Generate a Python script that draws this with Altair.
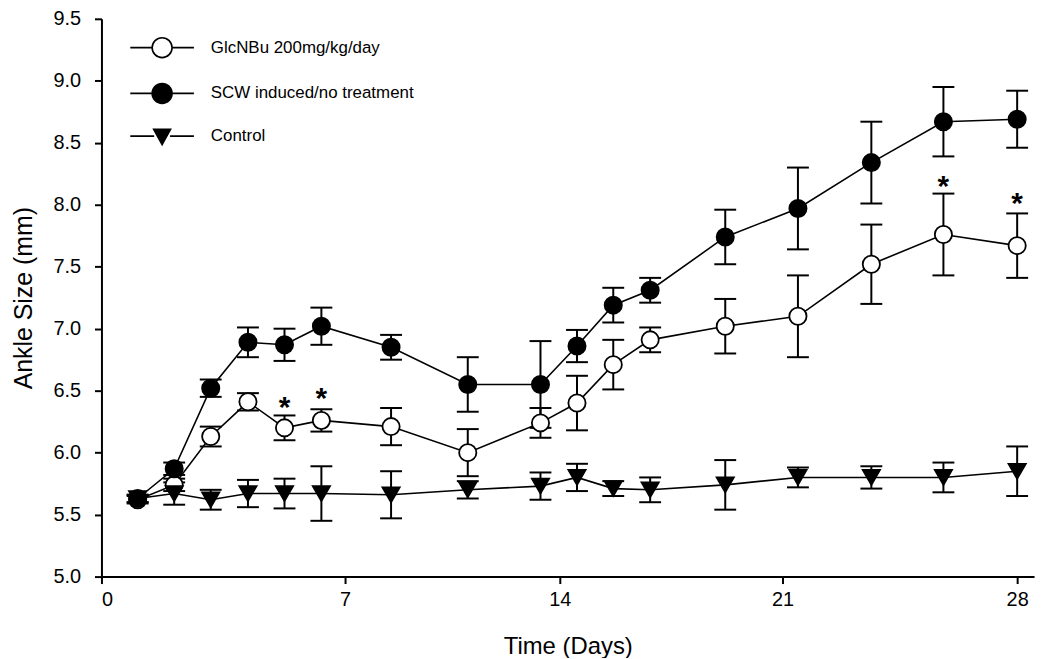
import altair as alt
import pandas as pd

# ---- data ----
days = [1.04, 2.09, 3.14, 4.21, 5.26, 6.32, 8.5, 11.0, 13.37, 14.54, 15.68, 16.84, 19.2, 21.46, 23.65, 25.8, 28.0]

series_names = ["GlcNBu 200mg/kg/day", "SCW induced/no treatment", "Control"]

glc = [5.62, 5.74, 6.13, 6.41, 6.20, 6.26, 6.21, 6.00, 6.24, 6.40, 6.71, 6.91, 7.02, 7.10, 7.52, 7.76, 7.67]
glc_err = [0.03, 0.05, 0.08, 0.07, 0.10, 0.09, 0.15, 0.19, 0.12, 0.22, 0.20, 0.10, 0.22, 0.33, 0.32, 0.33, 0.26]

scw = [5.63, 5.87, 6.52, 6.89, 6.87, 7.02, 6.85, 6.55, 6.55, 6.86, 7.19, 7.31, 7.74, 7.97, 8.34, 8.67, 8.69]
scw_err = [0.03, 0.05, 0.07, 0.12, 0.13, 0.15, 0.10, 0.22, 0.35, 0.13, 0.14, 0.10, 0.22, 0.33, 0.33, 0.28, 0.23]

ctrl = [5.63, 5.67, 5.62, 5.67, 5.67, 5.67, 5.66, 5.70, 5.73, 5.80, 5.71, 5.70, 5.74, 5.80, 5.80, 5.80, 5.85]
ctrl_err = [0.03, 0.09, 0.08, 0.11, 0.12, 0.22, 0.19, 0.07, 0.11, 0.11, 0.06, 0.10, 0.20, 0.08, 0.09, 0.12, 0.20]

star_days = [5.26, 6.32, 25.8, 28.0]
star_values = [6.41, 6.48, 8.19, 8.05]

x_ticks = [0, 7, 14, 21, 28]
y_ticks = [5.0, 5.5, 6.0, 6.5, 7.0, 7.5, 8.0, 8.5, 9.0, 9.5]

# ---- tables ----
rows = []
for name, vals, errs in zip(series_names, [glc, scw, ctrl], [glc_err, scw_err, ctrl_err]):
    for d, v, e in zip(days, vals, errs):
        rows.append({"series": name, "day": d, "value": v, "lo": v - e, "hi": v + e})
df = pd.DataFrame(rows)
stars = pd.DataFrame({"day": star_days, "value": star_values, "txt": ["*"] * len(star_days)})
# legend-only rows: no position, so no mark is drawn, only the legend entries
legend_df = pd.DataFrame({"entry": series_names, "day": [None] * 3, "value": [None] * 3})

FONT = "Liberation Sans"

# the scanned axis is slightly uneven; a piecewise scale keeps each tick where the original has it
xscale = alt.Scale(domain=[0, 7, 14, 21, 28, 28.5], range=[0, 245, 461, 685, 921, 938],
                   nice=False, zero=False)
yscale = alt.Scale(domain=[5.0, 9.5], nice=False, zero=False)

x_enc = alt.X("day:Q", scale=xscale,
              axis=alt.Axis(values=x_ticks, title="Time (Days)", format="d",
                            titlePadding=25, labelPadding=6, titleFontSize=24))
y_enc = alt.Y("value:Q", scale=yscale,
              axis=alt.Axis(values=y_ticks, format=".1f", title="Ankle Size (mm)",
                            titlePadding=17, labelPadding=14, titleFontSize=25))

base = alt.Chart(df)

lines = base.mark_line(color="black", strokeWidth=1.6).encode(
    x=x_enc, y=y_enc, detail="series:N")

bars = base.mark_rule(color="black", strokeWidth=2).encode(
    x="day:Q", y="lo:Q", y2="hi:Q")

cap_lo = base.mark_tick(orient="horizontal", color="black", size=22, thickness=2, opacity=1).encode(
    x="day:Q", y="lo:Q")
cap_hi = base.mark_tick(orient="horizontal", color="black", size=22, thickness=2, opacity=1).encode(
    x="day:Q", y="hi:Q")

points = base.mark_point(stroke="black", strokeWidth=1.8, size=300, opacity=1).encode(
    x="day:Q", y="value:Q",
    shape=alt.Shape("series:N", scale=alt.Scale(domain=series_names,
                                                range=["circle", "circle", "triangle-down"]),
                    legend=None),
    fill=alt.Fill("series:N", scale=alt.Scale(domain=series_names,
                                              range=["white", "black", "black"]),
                  legend=None),
)

star_text = alt.Chart(stars).mark_text(
    fontSize=30, fontWeight="bold", font=FONT, color="black", baseline="middle", dy=6
).encode(x="day:Q", y="value:Q", text="txt:N")

circle_path = "M-3.2,0H-1M1,0H3.2M-1,0A1,1 0 1,1 1,0A1,1 0 1,1 -1,0Z"
tri_path = "M-3.2,0H-0.8M0.8,0H3.2M-0.85,-0.7L0.85,-0.7L0,0.85Z"

leg = alt.Legend(title=None, orient="none", legendX=50, legendY=18,
                 symbolSize=400, symbolStrokeWidth=1.6,
                 symbolOpacity=1, labelFont=FONT, labelFontSize=17, labelColor="black",
                 labelOffset=38, labelLimit=0, rowPadding=18, padding=0)

legend_layer = alt.Chart(legend_df).mark_point(opacity=1, strokeWidth=1.6).encode(
    x="day:Q", y="value:Q",
    shape=alt.Shape("entry:N", scale=alt.Scale(domain=series_names,
                                               range=[circle_path, circle_path, tri_path]),
                    legend=leg),
    fill=alt.Fill("entry:N", scale=alt.Scale(domain=series_names,
                                             range=["white", "black", "black"]),
                  legend=leg),
    stroke=alt.Stroke("entry:N", scale=alt.Scale(domain=series_names,
                                                 range=["black", "black", "black"]),
                      legend=leg),
)

chart = alt.layer(lines, bars, cap_lo, cap_hi, points, star_text, legend_layer).resolve_scale(
    shape="independent", fill="independent", stroke="independent"
).properties(
    width=938, height=561,
    padding={"left": 94, "top": 9, "right": 10, "bottom": 80},
    autosize=alt.AutoSizeParams(type="none"),
    background="white",
).configure_view(stroke=None).configure_axis(
    grid=False, domainColor="black", domainWidth=2, tickColor="black", tickWidth=2,
    tickSize=7, labelFont=FONT, labelFontSize=20, labelColor="black",
    titleFont=FONT, titleFontWeight="normal", titleColor="black",
)

chart.save("out.html", embed_options={"renderer": "svg", "actions": False})
